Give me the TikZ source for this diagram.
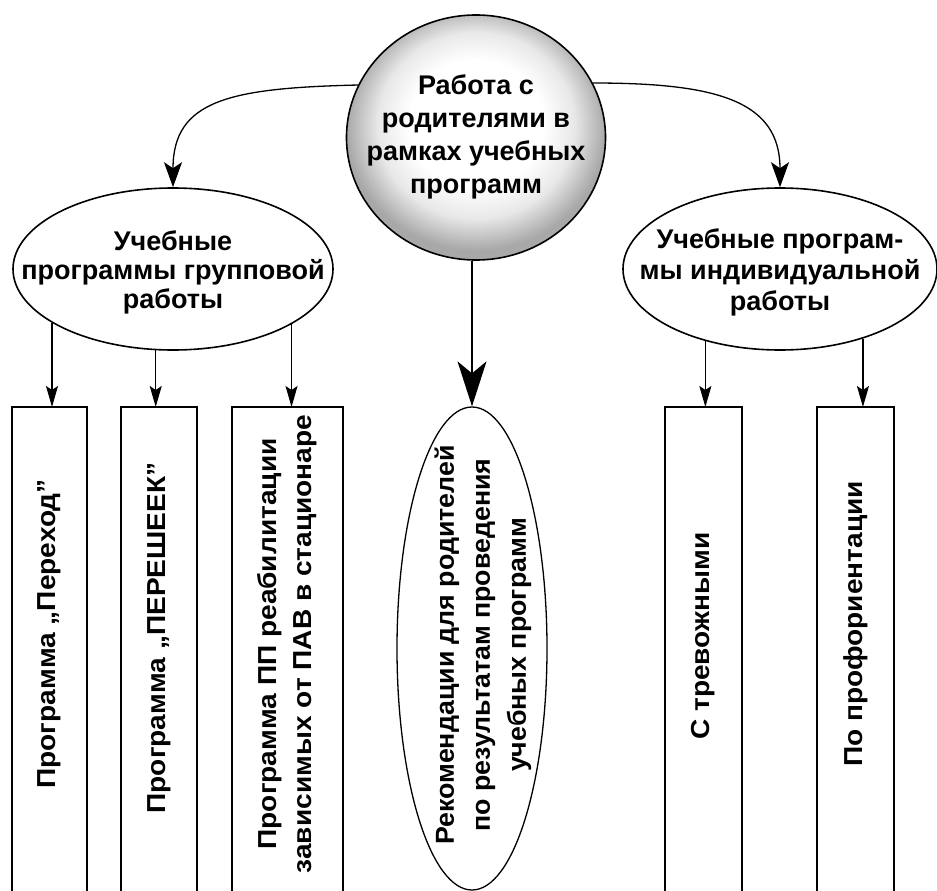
\documentclass[tikz,border=0pt]{standalone}
\usepackage{fontspec}
\setmainfont{Liberation Sans}
\newfontfamily\vfont[FakeStretch=1.08]{Liberation Sans}
\newfontfamily\rfont[FakeStretch=1.03]{Liberation Sans}
\usetikzlibrary{arrows.meta,shapes.geometric}
\pgfdeclareradialshading{topshade}{\pgfpoint{0bp}{4bp}}{color(0bp)=(white); color(13bp)=(white); color(19bp)=(black!9); color(25bp)=(black!34); color(50bp)=(black!34)}
\begin{document}
\begin{tikzpicture}[x=1pt,y=-1pt,
  hfont/.style={font=\bfseries\fontsize{27}{33}\selectfont, align=center, inner sep=0pt},
  vtxt/.style={rotate=90, font=\vfont\bfseries\fontsize{26}{35}\selectfont, align=center, inner sep=0pt},
  ell/.style={ellipse, draw, line width=1.6pt, inner sep=0pt},
  boxo/.style={rectangle, draw=none, anchor=north, minimum height=484, inner sep=0pt, outer sep=0pt},
  boxline/.style={line width=1.5pt},
  arr/.style={-{Stealth[length=21pt,width=12pt,inset=4pt]}, line width=1.2pt},
  carr/.style={-{Stealth[length=25pt,width=18pt,inset=6pt]}, line width=1.3pt},
  barr/.style={-{Stealth[length=45pt,width=29pt,inset=12pt]}, line width=1.4pt}]
\path[use as bounding box] (0,0) rectangle (937,891);

% top circle
\node[ell, shading=topshade, minimum width=259, minimum height=245] (top) at (476,137.5) {};
\node[hfont] (toptxt) at (476,137) {Работа с\\родителями в\\рамках учебных\\программ};

% second level ellipses
\node[ell, minimum width=320, minimum height=162] (grp) at (173,269) {};
\node[hfont, font=\bfseries\fontsize{27}{29}\selectfont] (grptxt) at (173,272) {Учебные\\программы групповой\\работы};
\node[ell, minimum width=314, minimum height=162] (ind) at (780,269) {};
\node[hfont, font=\bfseries\fontsize{27}{31}\selectfont] (indtxt) at (780,272) {Учебные програм-\\мы индивидуальной\\работы};

% central recommendation ellipse
\node[ell, line width=1.3pt, minimum width=150, minimum height=483] (rec) at (472,648.5) {};
\node[vtxt, font=\rfont\bfseries\fontsize{26}{36}\selectfont] (rectxt) at (483,645) {Рекомендации для родителей\\по результатам проведения\\учебных программ};

% boxes
\node[boxo, minimum width=75] (b1) at (49.5,407) {};
\node[boxo, minimum width=76] (b2) at (159,407) {};
\node[boxo, minimum width=111] (b3) at (287.5,407) {};
\node[boxo, minimum width=77] (b4) at (703.5,407) {};
\node[boxo, minimum width=77] (b5) at (855.5,407) {};
\foreach \b in {b1,b2,b3,b4,b5}
  \draw[boxline] (\b.south west) -- (\b.north west) -- (\b.north east) -- (\b.south east);

\node[vtxt] (t1) at (49.5,634) {Программа „Переход”};
\node[vtxt] (t2) at (159,638) {Программа „ПЕРЕШЕЕК”};
\node[vtxt] (t3) at (287.5,644) {Программа ПП реабилитации\\зависимых от ПАВ в стационаре};
\node[vtxt] (t4) at (703.5,636) {С тревожными};
\node[vtxt] (t5) at (855.5,624) {По профориентации};

% connectors
\draw[carr] (top.156) .. controls (230,88) and (173,100) .. (grp.north);
\draw[carr] (top.25) .. controls (715,83) and (780,100) .. (ind.north);
\draw[barr] (top.south -| rec.north) -- (rec.north);

\draw[arr] (grp.204) -- (grp.204 |- b1.north);
\draw[arr] (grp.258) -- (grp.258 |- b2.north);
\draw[arr] (grp.335) -- (grp.335 |- b3.north);
\draw[arr] (ind.224) -- (ind.224 |- b4.north);
\draw[arr] (ind.320) -- (ind.320 |- b5.north);
\end{tikzpicture}
\end{document}
